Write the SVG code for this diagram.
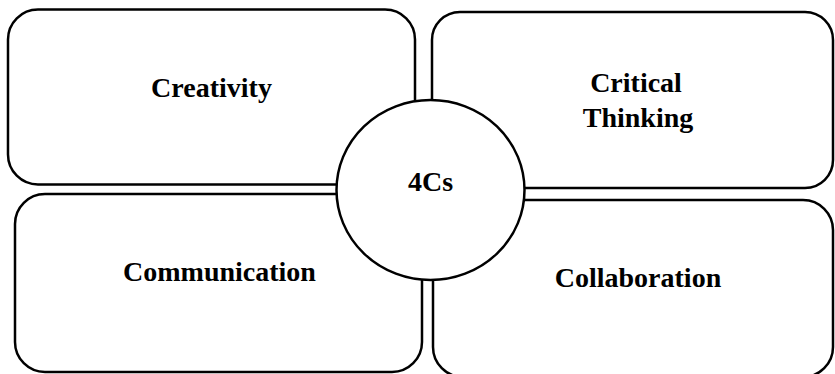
<svg xmlns="http://www.w3.org/2000/svg" width="835" height="374" viewBox="0 0 835 374">
<style>
.box{fill:#fff;stroke:#000;stroke-width:2.5}
.lbl{font-family:"Liberation Serif","Times New Roman",serif;font-weight:bold;font-size:28px;fill:#000;text-anchor:middle}
</style>
<rect width="835" height="374" fill="#fff"/>
<g id="creativity">
<rect class="box" x="8" y="9.5" width="407" height="175" rx="30" ry="30"/>
<text class="lbl" x="211.5" y="97">Creativity</text>
</g>
<g id="critical-thinking">
<rect class="box" x="432" y="12" width="401" height="176" rx="28" ry="28"/>
<text class="lbl" x="636" y="92">Critical</text>
<text class="lbl" x="638" y="127">Thinking</text>
</g>
<g id="communication">
<rect class="box" x="15" y="194" width="407" height="178" rx="30" ry="30"/>
<text class="lbl" x="219.5" y="281">Communication</text>
</g>
<g id="collaboration">
<rect class="box" x="433" y="200" width="400" height="177" rx="30" ry="30"/>
<text class="lbl" x="638" y="287">Collaboration</text>
</g>
<g id="connectors"></g>
<g id="center-4cs">
<ellipse class="box" cx="430.5" cy="190" rx="94" ry="90"/>
<text class="lbl" x="430.5" y="191">4Cs</text>
</g>
</svg>
